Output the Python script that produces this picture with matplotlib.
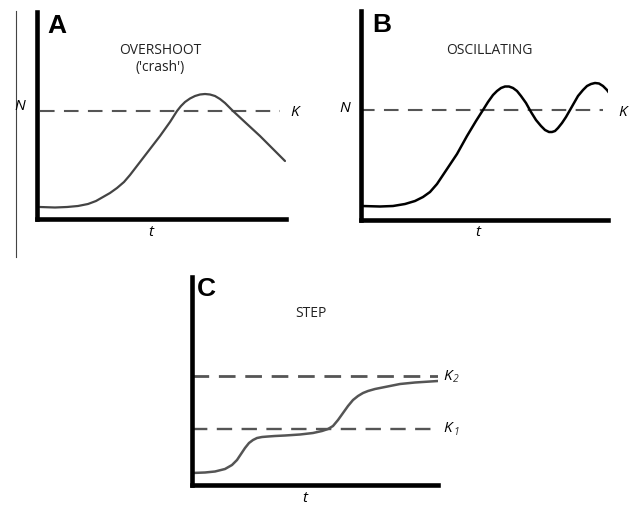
import matplotlib
matplotlib.use("Agg")
import matplotlib.pyplot as plt
from matplotlib.lines import Line2D

# ---- data (t, N in arbitrary units) ----
t_a = [3, 18, 30, 41, 51, 59, 66, 73, 80, 87, 93, 103, 113, 123, 133, 140,
       144, 148, 153, 158, 163, 168, 173, 178, 183, 188, 192, 196, 210, 223,
       235, 248]
n_a = [11, 10.5, 11, 12, 14, 17, 21, 25, 30, 36, 43, 56, 69, 82, 96, 107,
       112, 116, 119.5, 122, 123.5, 124, 123.5, 122, 119, 115, 111, 107, 94,
       82, 70, 57]
k_a = 107

t_b = [2, 20, 33, 45, 55, 63, 70, 77, 87, 97, 107, 116, 123, 128, 133, 137,
       141, 145, 149, 153, 157, 161, 166, 171, 176, 181, 185, 189, 192, 195,
       198, 202, 206, 210, 214, 218, 223, 227, 231, 235, 239, 243, 247, 250]
n_b = [13, 12.5, 13, 15, 18, 22, 27, 35, 50, 65, 83, 98, 109, 117, 124, 128,
       131, 132.5, 132.5, 131, 128, 123, 116, 107, 99, 93, 89, 87, 87, 88,
       91, 96, 102, 109, 116, 123, 129, 133, 135, 136, 135.5, 133, 129, 125]
k_b = 109

t_c = [2, 15, 25, 35, 42, 47, 51, 55, 59, 63, 67, 72, 78, 85, 95, 110, 123,
       132, 138, 143, 148, 153, 158, 163, 168, 173, 178, 185, 195, 210, 225,
       248]
n_c = [11, 11.5, 12.5, 15, 19, 24, 30, 36, 41, 44, 46, 47, 47.5, 48, 48.5,
       49.5, 51, 53, 55, 58, 64, 71, 78, 84, 88, 91, 93, 95, 97, 100, 101.5,
       103]
k1_c = 55
k2_c = 108

W, H = 636, 506
fig = plt.figure(figsize=(W / 100, H / 100), dpi=100)
fig.patch.set_facecolor("white")


def panel(x0, y0, left, right, bottom, top):
    # axes placed in pixel units, data origin at pixel (x0, y0)
    ax = fig.add_axes([left / W, 1 - bottom / H, (right - left) / W, (bottom - top) / H])
    ax.set_xlim(left - x0, right - x0)
    ax.set_ylim(y0 - bottom, y0 - top)
    for s in ["top", "right"]:
        ax.spines[s].set_visible(False)
    for s in ["left", "bottom"]:
        ax.spines[s].set_linewidth(3.3)
        ax.spines[s].set_color("black")
        ax.spines[s].set_capstyle("projecting")
    ax.set_xticks([])
    ax.set_yticks([])
    ax.patch.set_alpha(0)
    return ax


def ftext(x, y, s, **kw):
    fig.text(x / W, 1 - y / H, s, ha="center", va="center", **kw)


def klabel(x, y, sub):
    fig.text(x / W, 1 - y / H, "K", fontsize=11, style="italic",
             family="Open Sans", ha="left", va="center")
    fig.text((x + 10) / W, 1 - (y + 4) / H, sub, fontsize=7.5, style="italic",
             family="Open Sans", ha="left", va="center", color="#333333")


curve = dict(solid_capstyle="round", solid_joinstyle="round")
dash = (7, 4.5)

# A
ax = panel(37, 219, 37, 286, 219.5, 13)
ax.plot([3, 243], [k_a, k_a], color="#555555", lw=1.5, dashes=dash)
ax.plot(t_a, n_a, color="#444444", lw=1.6, **curve)
ftext(57, 26, "A", fontsize=19, fontweight="bold", family="Liberation Sans")
ftext(160, 51, "OVERSHOOT", fontsize=10, family="Open Sans", color="#222222")
ftext(160, 67, "('crash')", fontsize=10, family="Open Sans", color="#222222")
ftext(20, 107, "N", fontsize=11, style="italic", family="Open Sans")
ftext(295, 112, "K", fontsize=11, style="italic", family="Open Sans")
ftext(151, 233, "t", fontsize=11, style="italic", family="Open Sans")

# B
ax = panel(360, 220, 360.5, 608, 220.5, 12)
ax.plot([0, 243], [k_b, k_b], color="#555555", lw=1.5, dashes=dash)
ax.plot(t_b, n_b, color="black", lw=1.8, **curve)
ftext(382, 25, "B", fontsize=19, fontweight="bold", family="Liberation Sans")
ftext(489, 51, "OSCILLATING", fontsize=10, family="Open Sans", color="#222222")
ftext(345, 108, "N", fontsize=11, style="italic", family="Open Sans")
ftext(623, 112, "K", fontsize=11, style="italic", family="Open Sans")
ftext(478, 233, "t", fontsize=11, style="italic", family="Open Sans")

# C
ax = panel(190, 485, 192, 438, 485.5, 278)
ax.plot([2, 248], [k2_c, k2_c], color="#555555", lw=2.0, dashes=(6, 3.5))
ax.plot([2, 243], [k1_c, k1_c], color="#555555", lw=1.7, dashes=(6.5, 4))
ax.plot(t_c, n_c, color="#555555", lw=1.8, **curve)
ftext(206, 289, "C", fontsize=19, fontweight="bold", family="Liberation Sans")
ftext(311, 314, "STEP", fontsize=10, family="Open Sans", color="#222222")
klabel(443, 376, "2")
klabel(443, 429, "1")
ftext(305, 499, "t", fontsize=11, style="italic", family="Open Sans")

# thin border line at left of the top row
fig.add_artist(Line2D([16 / W, 16 / W], [1 - 12 / H, 1 - 258 / H],
                      transform=fig.transFigure, color="#444444", lw=0.8))

fig.savefig("out.png", dpi=100)
